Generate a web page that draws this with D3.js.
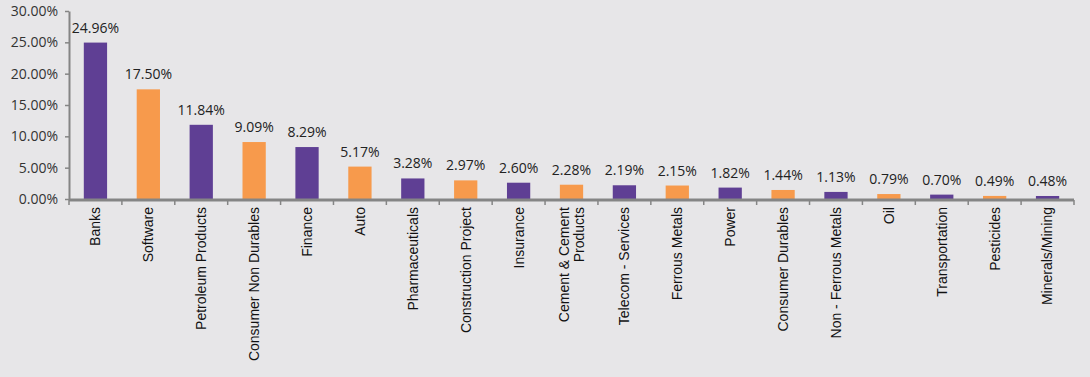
<!DOCTYPE html>
<html>
<head>
<meta charset="utf-8">
<script src="https://cdn.jsdelivr.net/npm/d3@7"></script>
<style>
  html, body { margin: 0; padding: 0; background: #e7e6e8; }
  svg { display: block; }
</style>
</head>
<body>
<div id="chart"></div>
<script>
const sectors = ["Banks", "Software", "Petroleum Products", "Consumer Non Durables", "Finance", "Auto",
  "Pharmaceuticals", "Construction Project", "Insurance", "Cement & Cement\nProducts", "Telecom - Services",
  "Ferrous Metals", "Power", "Consumer Durables", "Non - Ferrous Metals", "Oil", "Transportation",
  "Pesticides", "Minerals/Mining"];
const weights = [24.96, 17.50, 11.84, 9.09, 8.29, 5.17, 3.28, 2.97, 2.60, 2.28, 2.19, 2.15, 1.82, 1.44, 1.13, 0.79, 0.70, 0.49, 0.48];
const yTicks = [0, 5, 10, 15, 20, 25, 30];

(function bar(){
let width = 1090,
    height = 377,
    margin = ({top: 11, right: 16, bottom: 178, left: 69});

const colors = ["#5f3f94", "#f79a4c"];
const numFont = "'Open Sans', Lato, sans-serif";

const svg = d3.select("#chart")
    .append("svg")
    .attr("width", width)
    .attr("height", height);

let x = d3.scaleBand()
    .domain(sectors)
    .range([margin.left, width - margin.right])
    .paddingInner(0.56)
    .paddingOuter(0.28);

let y = d3.scaleLinear()
    .domain([0, 30])
    .range([height - margin.bottom, margin.top]);

const fmt = d => d3.format(".2f")(d) + "%";

// y axis
const yAxis = svg.append("g")
    .attr("transform", `translate(${margin.left},0)`)
    .call(d3.axisLeft(y).tickValues(yTicks).tickFormat(fmt).tickSize(4).tickSizeOuter(0));
yAxis.select(".domain").attr("stroke", "#858585").attr("stroke-width", 2);
yAxis.selectAll(".tick line").attr("stroke", "#858585").attr("stroke-width", 1.5);
yAxis.selectAll("text")
    .attr("fill", "#333")
    .style("font-family", numFont)
    .style("font-size", "14px")
    .attr("x", -11);

// bars
let g = svg.selectAll(".bar")
    .data(sectors)
    .join("g")
    .attr("class", "bar");

g.append("rect")
    .attr("fill", (d, i) => colors[i % 2])
    .attr("x", d => x(d))
    .attr("width", x.bandwidth())
    .attr("y", (d, i) => y(weights[i]))
    .attr("height", (d, i) => y(0) - y(weights[i]));

g.append("text")
    .text((d, i) => fmt(weights[i]))
    .attr("x", d => x(d) + x.bandwidth() / 2)
    .attr("y", (d, i) => y(weights[i]) - 10)
    .attr("text-anchor", "middle")
    .style("font-family", numFont)
    .style("font-size", "14px")
    .style("fill", "#222");

// x axis with ticks at category boundaries
const x0 = margin.left, x1 = width - margin.right;
const xg = svg.append("g");
xg.append("line")
    .attr("x1", x0).attr("x2", x1)
    .attr("y1", y(0) + 1).attr("y2", y(0) + 1)
    .attr("stroke", "#858585").attr("stroke-width", 3);
xg.selectAll(".xt")
    .data(d3.range(sectors.length + 1))
    .join("line")
    .attr("x1", i => x0 + (x1 - x0) * i / sectors.length)
    .attr("x2", i => x0 + (x1 - x0) * i / sectors.length)
    .attr("y1", y(0) + 1).attr("y2", y(0) + 6)
    .attr("stroke", "#858585").attr("stroke-width", 1.5);

const lab = xg.selectAll(".xl")
    .data(sectors)
    .join("text")
    .attr("class", "xl")
    .attr("transform", d => `translate(${x(d) + x.bandwidth() / 2},${y(0) + 8}) rotate(-90)`)
    .attr("text-anchor", "end")
    .style("font-family", "'Liberation Sans', Arial, sans-serif")
    .style("font-size", "14px")
    .style("fill", "#111");

lab.each(function(d) {
    const lines = d.split("\n");
    const t = d3.select(this);
    lines.forEach((l, k) => {
        t.append("tspan")
            .attr("x", 0)
            .attr("dy", k === 0 ? (lines.length > 1 ? "-0.2em" : "0.35em") : "1.1em")
            .text(l);
    });
});
})();
</script>
</body>
</html>
